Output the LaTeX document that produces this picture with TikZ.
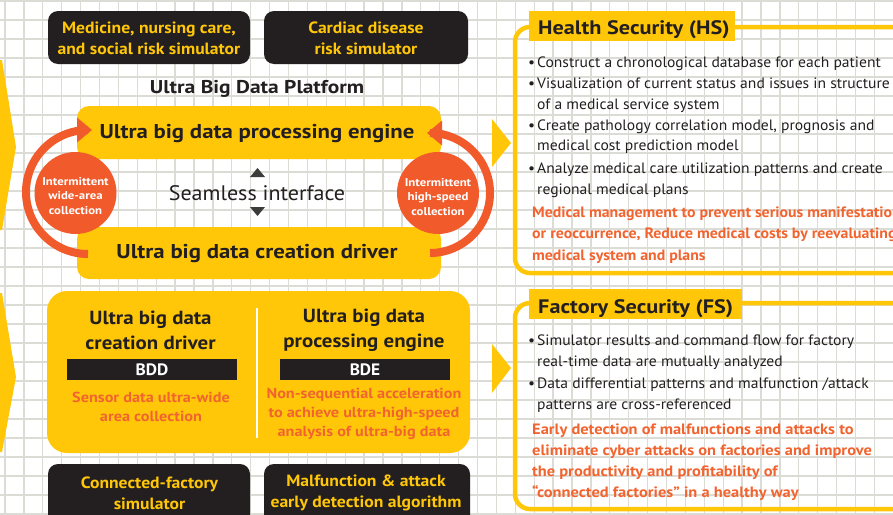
\documentclass[tikz,border=0pt]{standalone}
\usepackage{fontspec}
\setmainfont{PT Sans}
\usetikzlibrary{arrows.meta}
\definecolor{ylw}{HTML}{FFC708}
\definecolor{drk}{HTML}{231F20}
\definecolor{org}{HTML}{F15A2B}
\definecolor{orgtxt}{HTML}{F2642F}
\definecolor{gridc}{HTML}{DCDCD6}
\definecolor{tri}{HTML}{3C3C3C}
\newcommand{\stx}[1]{\addfontfeatures{FakeStretch=#1}}
\tikzset{
  darkbox/.style={fill=drk, rounded corners=10pt},
  ybox/.style={fill=ylw, rounded corners=12pt},
  dtxt/.style={text=ylw, font=\bfseries\fontsize{16.3}{21}\selectfont\stx{1.08}, align=center},
  ctxt/.style={text=white, font=\bfseries\fontsize{11.3}{14.5}\selectfont\stx{1.13}, align=center},
  otxt/.style={text=orgtxt, font=\bfseries\fontsize{14.5}{19}\selectfont\stx{1.12}, align=center},
  head/.style={text=drk, font=\bfseries\fontsize{19}{25}\selectfont\stx{1.1}, align=center},
  bul/.style={anchor=base west, text=drk, font=\fontsize{15}{21}\selectfont\stx{1.04}, inner sep=0pt},
  ored/.style={anchor=base west, text=orgtxt, font=\bfseries\fontsize{15}{21}\selectfont\stx{1.095}, inner sep=0pt},
  oredn/.style={ored, font=\bfseries\fontsize{15}{21}\selectfont\stx{1.055}},
  frame/.style={draw=ylw, line width=4.5pt, rounded corners=15pt},
  ttl/.style={fill=ylw, inner sep=0pt},
  ttltxt/.style={text=drk, font=\bfseries\fontsize{19.5}{22}\selectfont\stx{1.14}, anchor=base west, inner sep=0pt},
  cyc/.style={draw=org, line width=8pt, -{Triangle[length=15pt,width=24pt]}},
}
\newcommand{\bt}{\makebox[9pt][l]{\textbullet}}
\begin{document}
\begin{tikzpicture}[x=1pt,y=-1pt]
\useasboundingbox (0,0) rectangle (893,514);
\clip (0,0) rectangle (893,514);
\fill[white] (0,0) rectangle (893,514);
% grid
\foreach \i in {0,...,47} \draw[gridc, line width=1.3pt] ({5+18.9*\i},0) -- ++(0,514);
\foreach \j in {0,...,27} \draw[gridc, line width=1.3pt] (0,{1+19*\j}) -- ++(893,0);
% left chevrons
\fill[ylw] (-5,60) -- (2,60) -- (16,147) -- (2,230) -- (-5,230) -- cycle;
\fill[ylw] (-5,293) -- (2,293) -- (16,377) -- (2,452) -- (-5,452) -- cycle;
% right chevrons
\fill[ylw] (492,119) -- (511,143) -- (492,167) -- cycle;
\fill[ylw] (492,344) -- (511,368) -- (492,393) -- cycle;
% top dark boxes
\fill[darkbox] (48,11) rectangle (250,64);
\node[dtxt] (sim1) at (149,38) {Medicine, nursing care,\\and social risk simulator};
\fill[darkbox] (264,11) rectangle (468,64);
\node[dtxt] (sim2) at (366,38) {Cardiac disease\\risk simulator};
% platform title
\node[head, font=\bfseries\fontsize{18.5}{20}\selectfont\stx{1.16}] (plat) at (257,89) {Ultra Big Data Platform};
% yellow engine / driver boxes
\fill[ybox] (77,106) rectangle (441,159);
\node[head, font=\bfseries\fontsize{20}{22}\selectfont\stx{1.14}] (eng) at (257,134) {Ultra big data processing engine};
\fill[ybox] (77,227) rectangle (441,279);
\node[head, font=\bfseries\fontsize{20}{22}\selectfont\stx{1.14}] (drv) at (257,254) {Ultra big data creation driver};
% seamless
\node[text=drk, font=\fontsize{21}{22}\selectfont\stx{1.05}] (seam) at (257,193) {Seamless interface};
\fill[tri] (250,177) -- (265,177) -- (257.5,168) -- cycle;
\fill[tri] (250,207) -- (265,207) -- (257.5,216) -- cycle;
% cycle arrows
\draw[cyc] (88,254) arc[start angle=90, end angle=270, radius=62] -- (92,130);
\draw[cyc] (430,253) arc[start angle=90, end angle=-90, radius=60] -- (427,133);
% circles
\fill[org] (75.5,193) circle[radius=41];
\node[ctxt] (c1) at (75.5,196) {Intermittent\\wide-area\\collection};
\fill[org] (438,193) circle[radius=41];
\node[ctxt] (c2) at (438,197) {Intermittent\\high-speed\\collection};
% bottom big box
\fill[ylw, rounded corners=20pt] (47,291) rectangle (470,453);
\draw[white, line width=2pt] (257,308) -- (257,438);
\node[head] (bdd1) at (150.5,330) {Ultra big data\\creation driver};
\node[head] (bde1) at (364,330) {Ultra big data\\processing engine};
\fill[drk] (67,359) rectangle (237,380);
\node[text=white, font=\bfseries\fontsize{16.5}{18}\selectfont\stx{1.05}] (bdd) at (152,370) {BDD};
\fill[drk] (280,359) rectangle (450,380);
\node[text=white, font=\bfseries\fontsize{16.5}{18}\selectfont\stx{1.05}] (bde) at (365,370) {BDE};
\node[otxt] (bdd2) at (151,407) {Sensor data ultra-wide\\area collection};
\node[otxt] (bde2) at (364,414) {Non-sequential acceleration\\to achieve ultra-high-speed\\analysis of ultra-big data};
% bottom dark boxes
\fill[darkbox] (48,464) rectangle (250,530);
\node[dtxt] (sim3) at (149.5,493) {Connected-factory\\simulator};
\fill[darkbox] (264,464) rectangle (470,530);
\node[dtxt] (sim4) at (366,493) {Malfunction \& attack\\early detection algorithm};
% Health Security panel
\draw[frame] (910,27) -- (515,27) -- (515,273) -- (910,273);
\node[ttl, minimum width=206pt, minimum height=30pt, anchor=north west] (hs) at (529,11) {};
\node[ttltxt] (hst) at (538,34) {Health Security (HS)};
\node[bul] (h1) at (528,67) {\bt Construct a chronological database for each patient};
\node[bul] (h2) at (528,88) {\bt Visualization of current status and issues in structure};
\node[bul] (h3) at (537,109) {of a medical service system};
\node[bul] (h4) at (528,130.5) {\bt Create pathology correlation model, prognosis and};
\node[bul] (h5) at (537,150.5) {medical cost prediction model};
\node[bul] (h6) at (528,173.5) {\bt Analyze medical care utilization patterns and create};
\node[bul] (h7) at (537,194.5) {regional medical plans};
\node[oredn] (h8) at (532,217) {Medical management to prevent serious manifestation};
\node[oredn] (h9) at (532,238.5) {or reoccurrence, Reduce medical costs by reevaluating};
\node[oredn] (h10) at (532,260.5) {medical system and plans};
% Factory Security panel
\draw[frame] (910,303) -- (515,303) -- (515,509) -- (910,509);
\node[ttl, minimum width=213pt, minimum height=30pt, anchor=north west] (fs) at (529,289) {};
\node[ttltxt] (fst) at (538,313) {Factory Security (FS)};
\node[bul] (f1) at (528,345.5) {\bt Simulator results and command flow for factory};
\node[bul] (f2) at (537,366.5) {real-time data are mutually analyzed};
\node[bul] (f3) at (528,388) {\bt Data differential patterns and malfunction /attack};
\node[bul] (f4) at (537,409.5) {patterns are cross-referenced};
\node[ored] (f5) at (532,434) {Early detection of malfunctions and attacks to};
\node[ored] (f6) at (532,455.5) {eliminate cyber attacks on factories and improve};
\node[ored] (f7) at (532,476) {the productivity and profitability of};
\node[ored] (f8) at (532,497.5) {“connected factories” in a healthy way};
\end{tikzpicture}
\end{document}
